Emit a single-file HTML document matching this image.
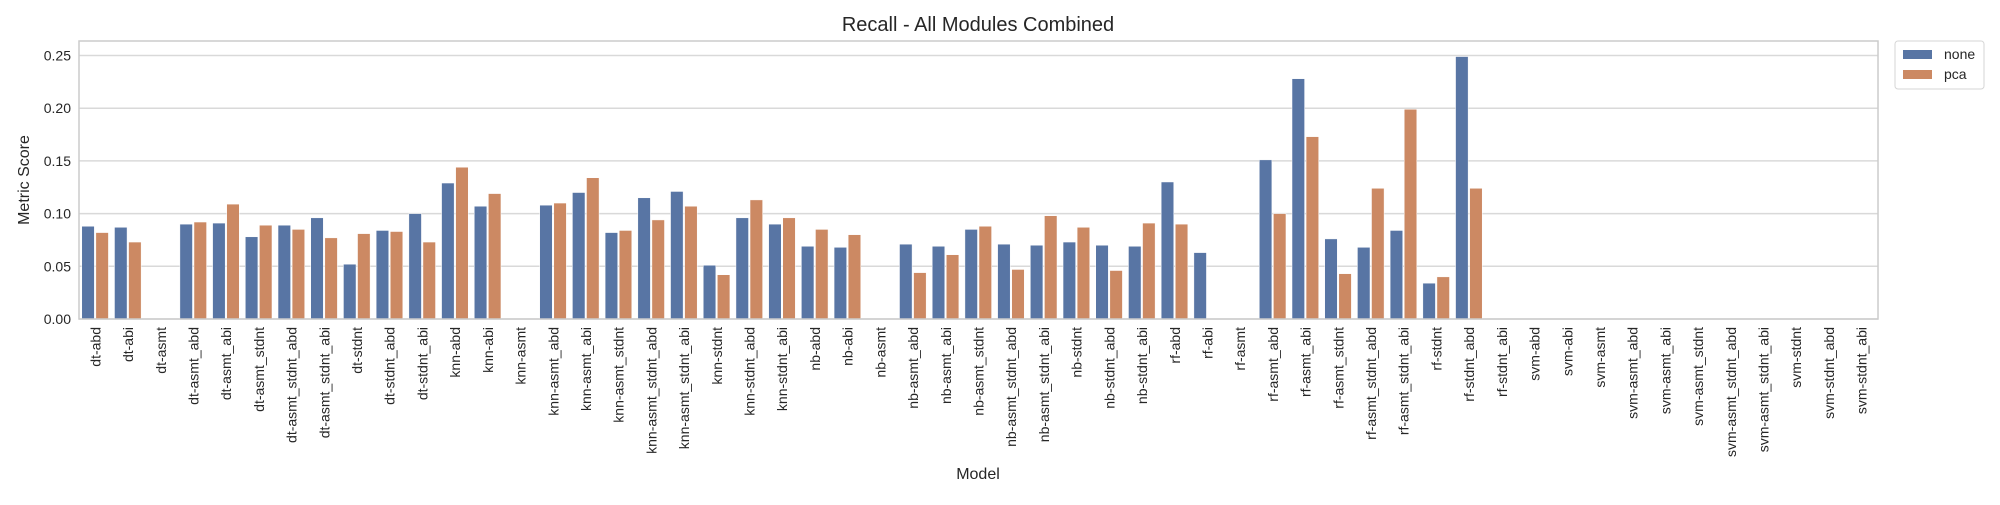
<!DOCTYPE html>
<html><head><meta charset="utf-8"><style>
body{margin:0;background:#fff;}
svg{font-family:"Liberation Sans",Arial,sans-serif;}
</style></head><body>
<svg id="chart" width="2000" height="500" xmlns="http://www.w3.org/2000/svg">
<g id="grid"></g>
<g id="bars"></g>
<rect x="79" y="41" width="1799" height="278" fill="none" stroke="#cccccc" stroke-width="1.5"/>
<g id="yticks"></g>
<g id="xticks"></g>
<text x="978" y="31" font-size="20" text-anchor="middle" fill="#262626">Recall - All Modules Combined</text>
<text transform="translate(29,180) rotate(-90)" font-size="16" text-anchor="middle" fill="#262626">Metric Score</text>
<text x="978" y="479" font-size="16" text-anchor="middle" fill="#262626">Model</text>
<g>
<rect x="1895" y="41" width="89" height="48" rx="3" fill="#fff" stroke="#d6d6d6"/>
<rect x="1903" y="50" width="29" height="9" fill="#5875a4"/>
<text x="1944" y="59" font-size="14" fill="#262626">none</text>
<rect x="1903" y="70" width="29" height="9" fill="#cc8963"/>
<text x="1944" y="79" font-size="14" fill="#262626">pca</text>
</g>
</svg>
<script>
const categories=["dt-abd","dt-abi","dt-asmt","dt-asmt_abd","dt-asmt_abi","dt-asmt_stdnt","dt-asmt_stdnt_abd","dt-asmt_stdnt_abi","dt-stdnt","dt-stdnt_abd","dt-stdnt_abi","knn-abd","knn-abi","knn-asmt","knn-asmt_abd","knn-asmt_abi","knn-asmt_stdnt","knn-asmt_stdnt_abd","knn-asmt_stdnt_abi","knn-stdnt","knn-stdnt_abd","knn-stdnt_abi","nb-abd","nb-abi","nb-asmt","nb-asmt_abd","nb-asmt_abi","nb-asmt_stdnt","nb-asmt_stdnt_abd","nb-asmt_stdnt_abi","nb-stdnt","nb-stdnt_abd","nb-stdnt_abi","rf-abd","rf-abi","rf-asmt","rf-asmt_abd","rf-asmt_abi","rf-asmt_stdnt","rf-asmt_stdnt_abd","rf-asmt_stdnt_abi","rf-stdnt","rf-stdnt_abd","rf-stdnt_abi","svm-abd","svm-abi","svm-asmt","svm-asmt_abd","svm-asmt_abi","svm-asmt_stdnt","svm-asmt_stdnt_abd","svm-asmt_stdnt_abi","svm-stdnt","svm-stdnt_abd","svm-stdnt_abi"];
const noneValues=[0.088,0.087,0,0.090,0.091,0.078,0.089,0.096,0.052,0.084,0.100,0.129,0.107,0,0.108,0.120,0.082,0.115,0.121,0.051,0.096,0.090,0.069,0.068,0,0.071,0.069,0.085,0.071,0.070,0.073,0.070,0.069,0.130,0.063,0,0.151,0.228,0.076,0.068,0.084,0.034,0.249,0,0,0,0,0,0,0,0,0,0,0,0];
const pcaValues=[0.082,0.073,0,0.092,0.109,0.089,0.085,0.077,0.081,0.083,0.073,0.144,0.119,0,0.110,0.134,0.084,0.094,0.107,0.042,0.113,0.096,0.085,0.080,0,0.044,0.061,0.088,0.047,0.098,0.087,0.046,0.091,0.090,0,0,0.100,0.173,0.043,0.124,0.199,0.040,0.124,0,0,0,0,0,0,0,0,0,0,0,0];
const yTicks=[0,0.05,0.10,0.15,0.20,0.25];
const yTickLabels=["0.00","0.05","0.10","0.15","0.20","0.25"];
const NS="http://www.w3.org/2000/svg";
const L=79,R=1878,B=319,PPU=1054;
const bw=(R-L)/categories.length;
const y=v=>B-v*PPU;
const x=i=>L+bw*(i+0.5);
function mk(t,a){const e=document.createElementNS(NS,t);for(const k in a)e.setAttribute(k,a[k]);return e;}
const grid=document.getElementById('grid'),yt=document.getElementById('yticks'),xt=document.getElementById('xticks'),bars=document.getElementById('bars');
yTicks.forEach((v,i)=>{
 const g=mk('line',{x1:L,x2:R,y1:y(v),y2:y(v),stroke:'#d9d9d9','stroke-width':1.5});
 
 
 grid.appendChild(g);
 const t=mk('text',{x:L-8,y:y(v)+5,'font-size':14,'text-anchor':'end',fill:'#262626'});
 
 
 t.textContent=yTickLabels[i];yt.appendChild(t);
});
const w=bw*0.4;
categories.forEach((c,i)=>{
 const cx=x(i);
 [[noneValues[i],'#5875a4',-1],[pcaValues[i],'#cc8963',0]].forEach(([v,col,o])=>{
  if(v<=0)return;
  const r=mk('rect',{x:cx+o*w+(o<0?0:0.5)-(o<0?0.5:0),y:y(v),width:w-0.5,height:v*PPU,fill:col,stroke:'#fff','stroke-width':0.5});
  
  
  bars.appendChild(r);
 });
 const t=mk('text',{transform:`translate(${cx+5},${B+8}) rotate(-90)`,'font-size':14,'text-anchor':'end',fill:'#262626'});
 
 
 t.textContent=c;xt.appendChild(t);
});
</script>
</body></html>
